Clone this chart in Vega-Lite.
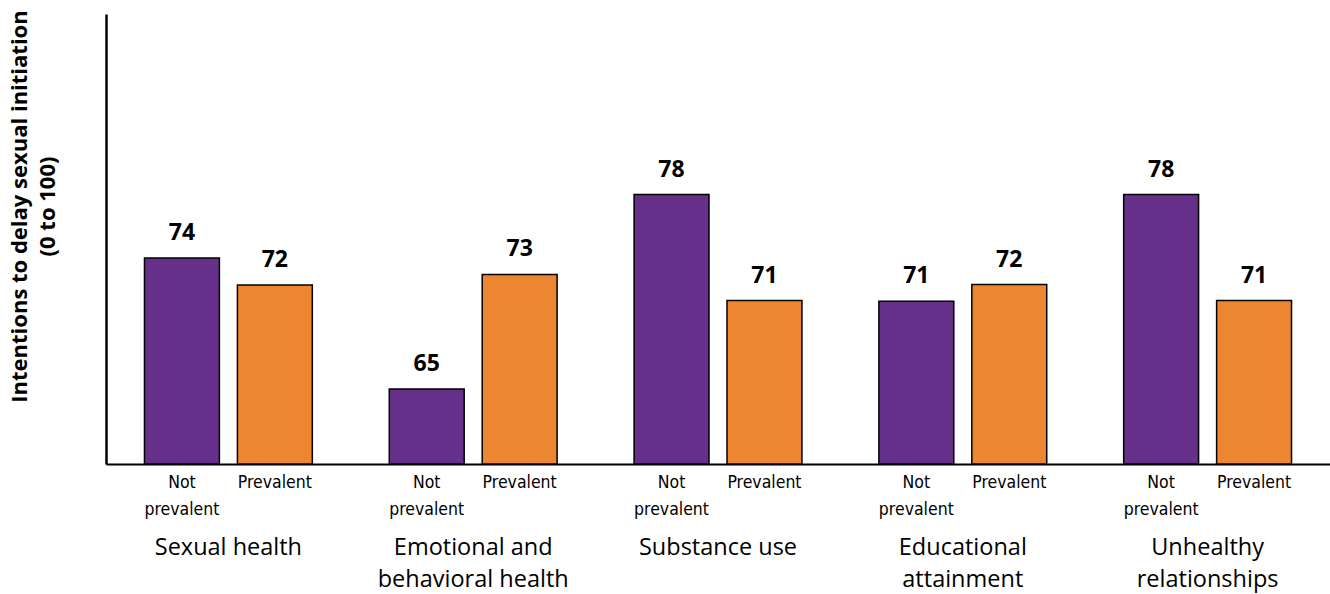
{
  "$schema": "https://vega.github.io/schema/vega-lite/v6.json",
  "width": 1224,
  "height": 450,
  "autosize": {"type": "none"},
  "padding": {"left": 106, "top": 14, "right": 0, "bottom": 130},
  "background": "white",
  "config": {"view": {"stroke": null}},
  "data": {
    "values": [
      {"group": "Sexual health", "status": "Not prevalent", "sub": ["Not", "prevalent"], "value": 73.73},
      {"group": "Sexual health", "status": "Prevalent", "sub": ["Prevalent"], "value": 71.94},
      {"group": "Emotional and|behavioral health", "status": "Not prevalent", "sub": ["Not", "prevalent"], "value": 65.0},
      {"group": "Emotional and|behavioral health", "status": "Prevalent", "sub": ["Prevalent"], "value": 72.64},
      {"group": "Substance use", "status": "Not prevalent", "sub": ["Not", "prevalent"], "value": 77.96},
      {"group": "Substance use", "status": "Prevalent", "sub": ["Prevalent"], "value": 70.9},
      {"group": "Educational|attainment", "status": "Not prevalent", "sub": ["Not", "prevalent"], "value": 70.85},
      {"group": "Educational|attainment", "status": "Prevalent", "sub": ["Prevalent"], "value": 71.96},
      {"group": "Unhealthy|relationships", "status": "Not prevalent", "sub": ["Not", "prevalent"], "value": 77.96},
      {"group": "Unhealthy|relationships", "status": "Prevalent", "sub": ["Prevalent"], "value": 70.9}
    ]
  },
  "encoding": {
    "x": {
      "field": "group",
      "type": "nominal",
      "sort": ["Sexual health", "Emotional and|behavioral health", "Substance use", "Educational|attainment", "Unhealthy|relationships"],
      "scale": {"paddingInner": 0, "paddingOuter": 0},
      "axis": {
        "title": null,
        "labelExpr": "split(datum.label, '|')",
        "labelAngle": 0,
        "labelPadding": 71,
        "labelBaseline": "top",
        "labelFont": "Open Sans",
        "labelFontSize": 23.5,
        "labelLineHeight": 32,
        "labelLimit": 400,
        "labelOverlap": false,
        "labelColor": "#000000",
        "ticks": false,
        "domainColor": "#000000",
        "domainWidth": 2,
        "grid": false
      }
    },
    "xOffset": {
      "field": "status",
      "type": "nominal",
      "sort": ["Not prevalent", "Prevalent"],
      "scale": {"paddingInner": 0.194, "paddingOuter": 0.414}
    }
  },
  "layer": [
    {
      "mark": {"type": "bar", "stroke": "#000000", "strokeWidth": 1.5},
      "encoding": {
        "y": {
          "field": "value",
          "type": "quantitative",
          "scale": {"domain": [60, 90], "zero": false, "nice": false},
          "axis": {
            "title": ["Intentions to delay sexual initiation", "(0 to 100)"],
            "titleFont": "Open Sans",
            "titleFontWeight": "bold",
            "titleFontSize": 22,
            "titleLineHeight": 28,
            "titleColor": "#000000",
            "titleAngle": -90,
            "titleX": -97,
            "titleY": 192,
            "titleAlign": "center",
            "titleBaseline": "top",
            "labels": false,
            "ticks": false,
            "grid": false,
            "domainColor": "#000000",
            "domainWidth": 2.5
          }
        },
        "y2": {"datum": 60},
        "color": {
          "field": "status",
          "type": "nominal",
          "scale": {"domain": ["Not prevalent", "Prevalent"], "range": ["#66308A", "#ED8631"]},
          "legend": null
        }
      }
    },
    {
      "mark": {"type": "text", "font": "Open Sans", "fontWeight": "bold", "fontSize": 23, "baseline": "alphabetic", "dy": -18, "color": "#000000"},
      "encoding": {
        "y": {"field": "value", "type": "quantitative"},
        "text": {"field": "value", "type": "quantitative", "format": ".0f"}
      }
    },
    {
      "mark": {"type": "text", "font": "Liberation Sans Narrow, DejaVu Sans Condensed, sans-serif", "fontSize": 17.5, "lineHeight": 27, "baseline": "alphabetic", "dy": 24, "color": "#000000"},
      "encoding": {
        "y": {"datum": 60, "type": "quantitative"},
        "text": {"field": "sub"}
      }
    }
  ]
}
